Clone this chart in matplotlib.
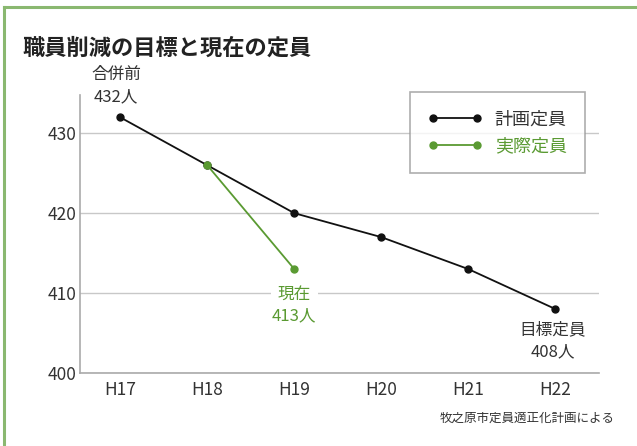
import matplotlib.pyplot as plt
from matplotlib.lines import Line2D

plt.rcParams['font.family'] = ['Noto Sans CJK JP', 'DejaVu Sans']

years = ['H17', 'H18', 'H19', 'H20', 'H21', 'H22']
plan = [432, 426, 420, 417, 413, 408]      # 計画定員
actual = [None, 426, 413]                  # 実際定員 (H18-H19)
yticks = [400, 410, 420, 430]

black = '#111111'
green = '#5a9a32'
grid = '#c8c8c8'

fig = plt.figure(figsize=(6.37, 4.46), dpi=100)
ax = fig.add_axes([0.126, 0.164, 0.814, 0.623])

x = list(range(len(years)))
ax.plot(x, plan, color=black, lw=1.3, marker='o', ms=5, zorder=3)
ax.plot(x[1:3], actual[1:3], color=green, lw=1.3, marker='o', ms=5, zorder=3)

ax.set_xlim(-0.46, 5.5)
ax.set_ylim(400, 434.8)
ax.set_yticks(yticks)
ax.set_xticks(x)
ax.set_xticklabels(years)
ax.tick_params(length=0, labelsize=12.5, labelcolor='#333333')
ax.tick_params(axis='x', pad=6)
ax.tick_params(axis='y', pad=3)
ax.grid(axis='y', color=grid, lw=1)
ax.set_axisbelow(True)
for s in ['top', 'right']:
    ax.spines[s].set_visible(False)
for s in ['left', 'bottom']:
    ax.spines[s].set_color('#aaaaaa')
    ax.spines[s].set_linewidth(1.2)

# annotations
ax.annotate('合併前\n432人', (x[0], plan[0]), xytext=(-3, 9), textcoords='offset points',
            ha='center', va='bottom', fontsize=12, color='#333333', linespacing=1.35)
ax.annotate('現在\n413人', (x[2], actual[2]), xytext=(0, -12), textcoords='offset points',
            ha='center', va='top', fontsize=12, color=green, linespacing=1.35,
            bbox=dict(facecolor='white', edgecolor='none', pad=1))
ax.annotate('目標定員\n408人', (x[5], plan[5]), xytext=(-2, -9), textcoords='offset points',
            ha='center', va='top', fontsize=12, color='#333333', linespacing=1.35)

handles = [Line2D([], [], color=black, lw=1.3, marker='o', ms=5),
           Line2D([], [], color=green, lw=1.3, marker='o', ms=5)]
leg = ax.legend(handles, ['計画定員', '実際定員'], loc='upper right',
                bbox_to_anchor=(0.973, 1.01), fontsize=13, frameon=True, fancybox=False,
                edgecolor='#999999', handlelength=3.0, borderpad=1.0, labelspacing=0.5,
                handletextpad=0.7, numpoints=2, borderaxespad=0)
leg.get_frame().set_linewidth(1.2)
leg.get_texts()[0].set_color('#333333')
leg.get_texts()[1].set_color(green)

fig.text(0.035, 0.892, '職員削減の目標と現在の定員', fontsize=16, fontweight='bold',
         color='#222222', va='center')
fig.text(0.965, 0.063, '牧之原市定員適正化計画による', fontsize=9, color='#333333',
         ha='right', va='center')

# green frame
fig.add_artist(Line2D([0.007, 1.0], [0.984, 0.984], color='#8ab870', lw=2.2))
fig.add_artist(Line2D([0.007, 0.007], [0.0, 0.984], color='#8ab870', lw=2.2))

fig.savefig('out.png', dpi=100)
